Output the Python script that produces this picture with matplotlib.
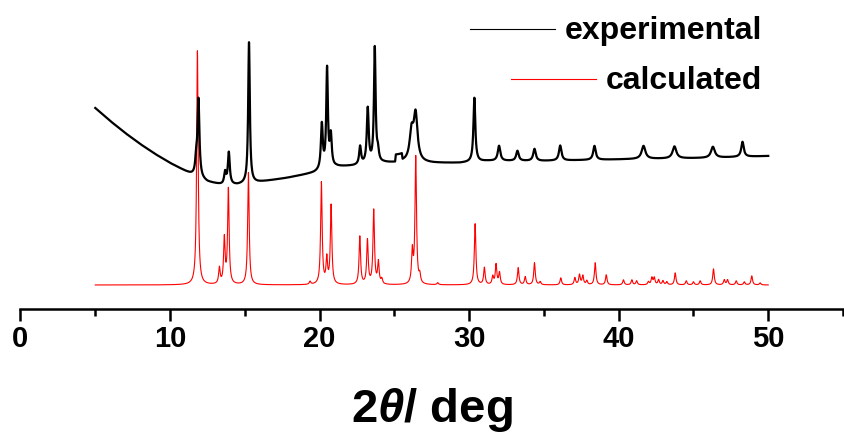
import numpy as np
import matplotlib
matplotlib.use("Agg")
import matplotlib.pyplot as plt
from matplotlib.lines import Line2D
from matplotlib.ticker import MultipleLocator

plt.rcParams['font.family'] = ['Liberation Sans', 'DejaVu Sans']
plt.rcParams['mathtext.fontset'] = 'custom'
plt.rcParams['mathtext.it'] = 'Liberation Sans:italic:bold'
plt.rcParams['mathtext.rm'] = 'Liberation Sans:bold'

# ---------------- data ----------------
two_theta = np.arange(5.0, 50.0001, 0.01)

# measured pattern: background (2theta, counts) and peaks (2theta, height, fwhm)
exp_bg_pos = [5.0, 6.0, 7.0, 8.0, 9.0, 10.0, 11.0, 11.5, 12.5, 13.5, 14.5,
              16.0, 17.8, 19.6, 21.1, 22.3, 24.3, 25.05, 25.1, 25.5, 25.55,
              27.6, 29.4, 31.2, 34.8, 41.4, 45.9, 50.0]
exp_bg_cts = [201, 188, 176, 165, 155, 146, 138, 134, 127, 124, 124,
              127, 131, 136, 142, 143, 146, 146, 153, 153, 147,
              146, 146, 148, 148, 150, 151, 153]
exp_pk_pos = [11.75, 11.90, 13.68, 13.93, 15.28, 20.15, 20.50, 20.75, 22.71,
              23.22, 23.69, 23.90, 26.15, 26.42, 30.35, 32.00, 33.23, 34.37,
              36.09, 38.38, 41.66, 43.73, 46.30, 48.28]
exp_pk_hgt = [15, 77, 12, 32, 141, 45, 99, 31, 18,
              55, 115, 10, 28, 46, 64, 15, 10, 12,
              15, 14, 13, 12, 11, 15]
exp_pk_wid = [0.15, 0.15, 0.15, 0.15, 0.13, 0.15, 0.13, 0.15, 0.15,
              0.15, 0.13, 0.15, 0.30, 0.30, 0.15, 0.20, 0.20, 0.20,
              0.20, 0.20, 0.30, 0.30, 0.30, 0.20]

# simulated pattern from the single-crystal structure
calc_offset = 24
calc_pk_pos = [11.83, 13.30, 13.63, 13.90, 15.24, 19.36, 20.12, 20.48, 20.77,
               22.69, 23.20, 23.62, 23.93, 24.16, 26.20, 26.43, 26.70, 27.90,
               30.40, 31.02, 31.58, 31.80, 32.03, 33.28, 33.75, 34.37, 34.75,
               36.13, 37.07, 37.38, 37.60, 37.87, 38.43, 39.17, 40.32, 40.88,
               41.20, 41.99, 42.22, 42.38, 42.67, 42.96, 43.22, 43.78, 44.52,
               45.00, 45.45, 46.34, 47.06, 47.28, 47.86, 48.40, 48.90, 49.46]
calc_pk_hgt = [234, 16, 45, 95, 112, 3, 102, 25, 79,
               48, 44, 74, 22, 5, 32, 127, 8, 2,
               61, 17, 8, 20, 12, 17, 8, 22, 3,
               7, 7, 10, 9, 4, 22, 10, 5, 5,
               4, 3, 7, 7, 5, 4, 3, 12, 4,
               3, 4, 16, 5, 5, 4, 3, 9, 2]
calc_fwhm = 0.12


def profile(x, pos, hgt, wid):
    y = np.zeros_like(x)
    for p, h, w in zip(pos, hgt, np.broadcast_to(wid, len(pos))):
        g = (w / 2.0) ** 2
        y += h * g / ((x - p) ** 2 + g)
    return y


exp_y = np.interp(two_theta, exp_bg_pos, exp_bg_cts) + profile(
    two_theta, exp_pk_pos, exp_pk_hgt, exp_pk_wid)
calc_y = calc_offset + profile(two_theta, calc_pk_pos, calc_pk_hgt, calc_fwhm)

# ---------------- plot ----------------
fig = plt.figure(figsize=(8.45, 4.37), dpi=100)
ax = fig.add_axes([20.5 / 845, 1 - 309 / 437, 822.5 / 845, 309 / 437])

ax.plot(two_theta, calc_y, color='red', lw=0.8, zorder=2)
ax.plot(two_theta, exp_y, color='black', lw=1.6, zorder=3)

ax.set_xlim(0, 55)
ax.set_ylim(0, 309)
for s in ['left', 'right', 'top']:
    ax.spines[s].set_visible(False)
ax.spines['bottom'].set_linewidth(1.8)
ax.set_yticks([])
ax.xaxis.set_major_locator(MultipleLocator(10))
ax.xaxis.set_minor_locator(MultipleLocator(5))
ax.tick_params(axis='x', which='major', direction='out', length=8.5, width=1.8,
               pad=3, labelsize=21)
ax.tick_params(axis='x', which='minor', direction='out', length=4.8, width=1.8)
for lab in ax.get_xticklabels():
    lab.set_fontweight('bold')
ax.set_xlabel(r'2$\theta$/ deg', fontsize=34, fontweight='bold', labelpad=24)

# legend: right-aligned labels with a short line in front of each
fig.canvas.draw()
renderer = fig.canvas.get_renderer()
for label, color, base_px, line_px in [('experimental', 'black', 39.3, 28.7),
                                       ('calculated', 'red', 89.3, 78.7)]:
    t = fig.text(762 / 845, 1 - base_px / 437, label, ha='right', va='baseline',
                 fontsize=23, fontweight='bold')
    x0 = t.get_window_extent(renderer).x0
    fig.add_artist(Line2D([(x0 - 95) / 845, (x0 - 10) / 845],
                          [1 - line_px / 437] * 2, color=color, lw=0.8,
                          transform=fig.transFigure))

fig.savefig('out.png', dpi=100)
